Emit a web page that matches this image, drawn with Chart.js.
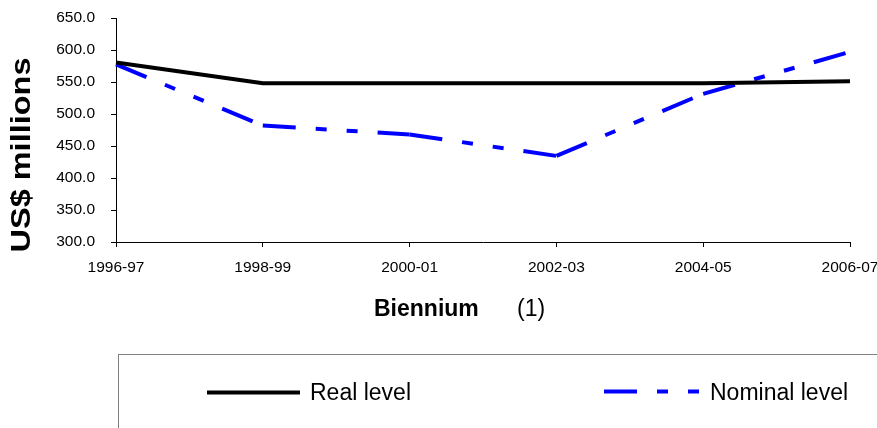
<!DOCTYPE html>
<html>
<head>
<meta charset="utf-8">
<script src="https://cdn.jsdelivr.net/npm/chart.js@4/dist/chart.umd.min.js"></script>
<style>
  html, body { margin: 0; padding: 0; background: #fff; }
  canvas { display: block; }
</style>
</head>
<body>
<canvas id="budgetChart" width="877" height="428"></canvas>
<script>
// Budget levels per biennium, US$ millions
const biennia = ['1996-97', '1998-99', '2000-01', '2002-03', '2004-05', '2006-07'];
const realLevel = [580.5, 548, 548, 548, 548, 551];
const nominalLevel = [577.5, 482, 468, 434.5, 531.5, 597];
const yMin = 300;
const yMax = 650;
const yStep = 50;

const FONT = "'Liberation Sans', Arial, sans-serif";
// long dash, dot, dot - restarted at every vertex like the spreadsheet original
const nominalDash = [33, 20, 11, 20, 11, 20];

const ctx = document.getElementById('budgetChart');

// titles and the boxed legend underneath the plot
const decorations = {
  id: 'decorations',
  afterDraw(chart) {
    const c = chart.ctx;
    const area = chart.chartArea;
    c.save();
    c.fillStyle = '#000';

    // vertical axis title
    c.save();
    c.translate(22, (area.top + area.bottom) / 2 + 25);
    c.rotate(-Math.PI / 2);
    c.scale(1.16, 1);
    c.font = `bold 28px ${FONT}`;
    c.textAlign = 'center';
    c.textBaseline = 'middle';
    c.fillText('US$ millions', 0, 0);
    c.restore();

    // horizontal axis title
    c.textBaseline = 'alphabetic';
    c.textAlign = 'left';
    c.font = `bold 23px ${FONT}`;
    c.fillText('Biennium', 374, 316);
    c.font = `23px ${FONT}`;
    c.fillText('(1)', 517, 316);

    // legend frame runs off the right and bottom edges
    c.strokeStyle = '#808080';
    c.lineWidth = 1;
    c.strokeRect(area.left + 2.5, 354.5, 900, 200);

    const items = [
      { ds: chart.data.datasets[0], x0: 207, x1: 300, y: 392.5, tx: 310 },
      { ds: chart.data.datasets[1], x0: 604, x1: 701, y: 391.5, tx: 710 }
    ];
    items.forEach(it => {
      c.beginPath();
      c.setLineDash(it.ds.borderDash || []);
      c.strokeStyle = it.ds.borderColor;
      c.lineWidth = it.ds.borderWidth;
      c.moveTo(it.x0, it.y);
      c.lineTo(it.x1, it.y);
      c.stroke();
      c.setLineDash([]);
      c.font = `23px ${FONT}`;
      c.fillText(it.ds.label, it.tx, 400);
    });
    c.restore();
  }
};

new Chart(ctx, {
  type: 'line',
  data: {
    labels: biennia,
    datasets: [
      {
        label: 'Real level',
        data: realLevel,
        borderColor: '#000000',
        borderWidth: 4,
        pointRadius: 0,
        tension: 0
      },
      {
        label: 'Nominal level',
        data: nominalLevel,
        borderColor: '#0000ff',
        borderWidth: 4,
        borderDash: nominalDash,
        pointRadius: 0,
        tension: 0,
        // a tiny offset change per segment splits the path so the dash starts fresh at each point
        segment: {
          borderDashOffset: s => (s.p0DataIndex % 2 ? 0.01 : 0)
        }
      }
    ]
  },
  options: {
    responsive: false,
    devicePixelRatio: 1,
    animation: false,
    layout: { padding: { left: 0, top: 18, right: 27, bottom: 146 } },
    plugins: {
      legend: { display: false },
      tooltip: { enabled: false }
    },
    scales: {
      x: {
        offset: false,
        grid: { drawOnChartArea: false, tickLength: 5, color: '#000' },
        border: { color: '#000', width: 1 },
        ticks: { color: '#000', font: { family: FONT, size: 15.5 }, padding: 11, maxRotation: 0 },
        afterFit(scale) {
          scale.height = 40;
          scale.paddingRight = 0;
        }
      },
      y: {
        min: yMin,
        max: yMax,
        grid: { drawOnChartArea: false, tickLength: 5, color: '#000' },
        border: { color: '#000', width: 1 },
        ticks: {
          stepSize: yStep,
          color: '#000',
          font: { family: FONT, size: 15.5 },
          padding: 16,
          callback: v => v.toFixed(1)
        },
        afterFit(scale) {
          scale.width = 116;
          scale.paddingTop = 0;
          scale.paddingBottom = 0;
        }
      }
    }
  },
  plugins: [decorations]
});
</script>
</body>
</html>
